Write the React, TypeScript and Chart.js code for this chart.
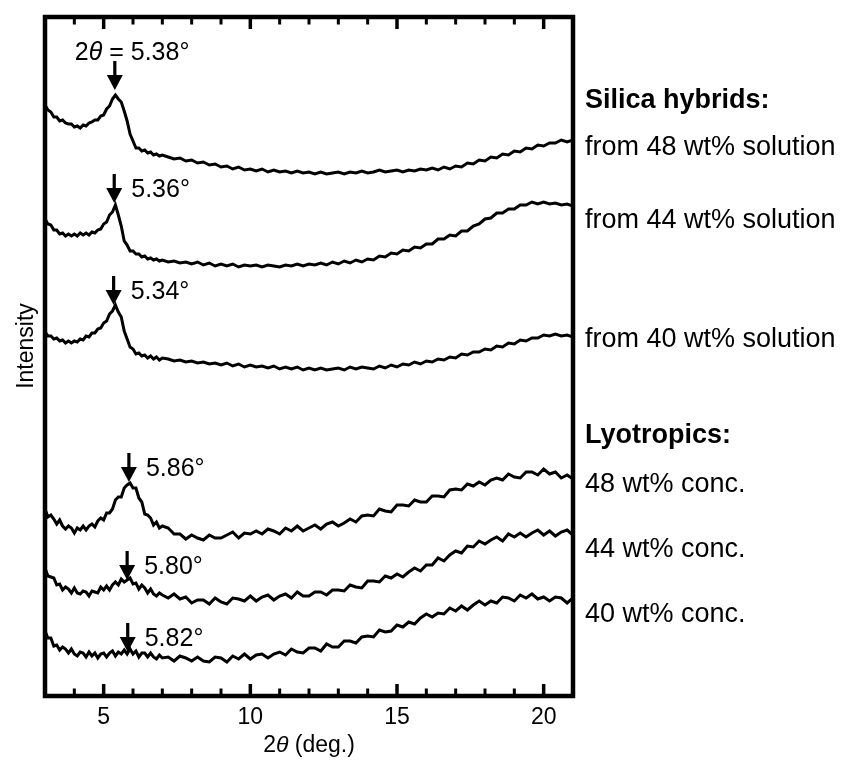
import React, { useEffect, useRef } from 'react';
import { Chart, registerables } from 'chart.js';

Chart.register(...registerables);

const FONT = '"Liberation Sans", Arial, Helvetica, sans-serif';

// 2θ (deg.)
const xValues = [
  3.0, 3.1, 3.2, 3.3, 3.4, 3.5, 3.6, 3.7, 3.8, 3.9, 4.0, 4.1, 4.2, 4.3, 4.4, 4.5, 4.6, 4.7, 4.8, 4.9,
  5.0, 5.1, 5.2, 5.3, 5.4, 5.5, 5.6, 5.7, 5.8, 5.9, 6.0, 6.1, 6.2, 6.3, 6.4, 6.5, 6.6, 6.7, 6.8, 6.9, 7.0,
  7.2, 7.4, 7.6, 7.8, 8.0, 8.2, 8.4, 8.6, 8.8, 9.0, 9.2, 9.4, 9.6, 9.8, 10.0, 10.2, 10.4, 10.6, 10.8, 11.0,
  11.2, 11.4, 11.6, 11.8, 12.0, 12.2, 12.4, 12.6, 12.8, 13.0, 13.2, 13.4, 13.6, 13.8, 14.0, 14.2, 14.4, 14.6,
  14.8, 15.0, 15.2, 15.4, 15.6, 15.8, 16.0, 16.2, 16.4, 16.6, 16.8, 17.0, 17.2, 17.4, 17.6, 17.8, 18.0, 18.2,
  18.4, 18.6, 18.8, 19.0, 19.2, 19.4, 19.6, 19.8, 20.0, 20.2, 20.4, 20.6, 20.8, 21.0,
];

// Intensity (a.u., vertically offset traces)
const hybrid48 = [
  591, 586, 584, 579, 579, 575, 576, 573, 572, 572, 569, 570, 568, 571, 570, 573, 574, 576, 576, 580,
  581, 587, 590, 597, 601, 597, 594, 585, 575, 562, 555, 548, 548, 545, 546, 543, 544, 541, 542, 540, 541,
  539, 537, 538, 535, 536, 533, 534, 531, 532, 529, 530, 527, 529, 526, 527, 525, 527, 524, 526, 524,
  525, 523, 525, 523, 524, 522, 524, 522, 523, 524, 522, 524, 523, 525, 523, 524, 526, 524, 525, 526,
  524, 526, 525, 527, 526, 528, 526, 529, 527, 530, 529, 533, 532, 536, 535, 539, 538, 542, 541, 545,
  544, 548, 547, 551, 550, 553, 553, 556, 554, 556,
];
const hybrid44 = [
  477, 472, 471, 466, 466, 462, 463, 460, 462, 460, 462, 460, 463, 461, 463, 461, 464, 463, 466, 467,
  472, 474, 481, 484, 491, 481, 470, 455, 451, 445, 445, 442, 442, 439, 440, 437, 438, 436, 437, 435, 436,
  434, 435, 433, 434, 432, 434, 431, 433, 430, 432, 430, 432, 429, 431, 430, 431, 429, 431, 430, 429,
  431, 430, 432, 430, 432, 431, 433, 431, 434, 432, 435, 433, 436, 434, 437, 436, 440, 439, 443, 442,
  446, 445, 449, 448, 452, 452, 457, 457, 461, 460, 465, 465, 470, 472, 477, 478, 483, 483, 487, 487,
  491, 491, 494, 492, 494, 492, 493, 491, 492, 490,
];
const hybrid40 = [
  364, 360, 360, 357, 358, 355, 356, 353, 355, 353, 355, 354, 357, 356, 360, 359, 363, 363, 367, 368,
  373, 375, 382, 385, 391, 384, 379, 365, 357, 349, 347, 342, 343, 340, 341, 338, 340, 337, 339, 336, 338,
  337, 335, 336, 334, 335, 333, 334, 332, 333, 331, 333, 330, 332, 329, 331, 329, 330, 328, 330, 327,
  329, 327, 329, 326, 328, 326, 328, 326, 327, 328, 326, 329, 327, 329, 328, 327, 330, 328, 331, 329,
  332, 331, 334, 332, 335, 334, 337, 336, 339, 338, 342, 341, 344, 344, 347, 346, 350, 349, 353, 352,
  356, 355, 358, 358, 361, 360, 362, 360, 361, 359,
];
const lyo48 = [
  187, 179, 181, 177, 172, 176, 170, 167, 170, 168, 163, 168, 166, 170, 166, 170, 172, 169, 175, 178,
  176, 183, 183, 187, 196, 199, 199, 208, 211, 213, 208, 208, 198, 194, 182, 181, 178, 171, 174, 168, 170,
  168, 162, 162, 157, 161, 158, 156, 161, 158, 158, 161, 164, 158, 163, 162, 165, 162, 167, 165, 162,
  168, 165, 170, 165, 168, 171, 167, 172, 174, 170, 173, 177, 174, 180, 181, 180, 187, 185, 184, 191,
  191, 190, 196, 194, 194, 200, 200, 199, 206, 207, 206, 212, 210, 214, 211, 216, 218, 216, 222, 219,
  218, 224, 224, 221, 227, 222, 224, 218, 221, 217,
];
const lyo44 = [
  128, 120, 119, 118, 111, 112, 106, 109, 107, 103, 108, 103, 102, 105, 104, 100, 105, 104, 103, 109,
  106, 110, 106, 111, 114, 111, 117, 114, 116, 118, 112, 113, 107, 111, 108, 103, 107, 102, 100, 103, 101,
  98, 102, 97, 99, 93, 96, 96, 92, 98, 94, 92, 98, 97, 95, 100, 95, 99, 101, 96, 100,
  102, 98, 104, 100, 100, 104, 104, 101, 106, 106, 105, 111, 109, 108, 115, 115, 114, 120, 118, 122,
  119, 124, 128, 125, 131, 131, 138, 135, 141, 145, 143, 150, 149, 155, 152, 156, 159, 155, 162, 159,
  163, 159, 163, 166, 161, 165, 160, 164, 166, 161,
];
const lyo40 = [
  65, 58, 58, 50, 51, 46, 49, 47, 43, 47, 42, 40, 44, 43, 39, 44, 40, 43, 38, 42,
  43, 39, 43, 45, 40, 44, 42, 46, 42, 47, 42, 45, 39, 43, 43, 39, 43, 39, 37, 41, 38,
  39, 35, 40, 38, 35, 39, 35, 34, 39, 38, 34, 40, 37, 42, 37, 41, 42, 38, 42, 44,
  41, 47, 44, 43, 48, 48, 45, 52, 49, 49, 55, 55, 53, 59, 60, 59, 66, 64, 65, 71,
  69, 74, 72, 78, 82, 79, 83, 82, 88, 85, 90, 86, 91, 95, 91, 95, 93, 99, 98, 95,
  101, 98, 102, 97, 99, 95, 99, 98, 93, 98,
];

const seriesList = [hybrid48, hybrid44, hybrid40, lyo48, lyo44, lyo40];
const seriesNames = [
  'from 48 wt% solution',
  'from 44 wt% solution',
  'from 40 wt% solution',
  '48 wt% conc.',
  '44 wt% conc.',
  '40 wt% conc.',
];
const groupTitles = ['Silica hybrids:', 'Lyotropics:'];

// peak markers
const peakX = [5.38, 5.36, 5.34, 5.86, 5.8, 5.82];
const peakLabels = ['5.38°', '5.36°', '5.34°', '5.86°', '5.80°', '5.82°'];
const arrowTipY = [606, 493, 391, 214, 116, 44];

const majorTicks = [5, 10, 15, 20];
const minorTicks = [4, 6, 7, 8, 9, 11, 12, 13, 14, 16, 17, 18, 19];

type Part = { t: string; italic?: boolean; bold?: boolean };

function richWidth(ctx: CanvasRenderingContext2D, parts: Part[], size: number) {
  let w = 0;
  for (const p of parts) {
    ctx.font = `${p.italic ? 'italic ' : ''}${p.bold ? 'bold ' : ''}${size}px ${FONT}`;
    w += ctx.measureText(p.t).width;
  }
  return w;
}

function drawRich(
  ctx: CanvasRenderingContext2D,
  parts: Part[],
  x: number,
  y: number,
  size: number,
  align: 'left' | 'center'
) {
  let cx = x;
  if (align === 'center') cx = x - richWidth(ctx, parts, size) / 2;
  ctx.textAlign = 'left';
  ctx.textBaseline = 'alphabetic';
  for (const p of parts) {
    ctx.font = `${p.italic ? 'italic ' : ''}${p.bold ? 'bold ' : ''}${size}px ${FONT}`;
    ctx.fillText(p.t, cx, y);
    cx += ctx.measureText(p.t).width;
  }
}

const decorPlugin = {
  id: 'xrdDecor',
  afterDatasetsDraw(chart: any) {
    const { ctx, chartArea: a, scales } = chart;
    const xs = scales.x;
    const ys = scales.y;
    ctx.save();
    ctx.fillStyle = '#000';
    ctx.strokeStyle = '#000';

    // frame
    ctx.lineWidth = 4.5;
    ctx.strokeRect(a.left, a.top, a.right - a.left, a.bottom - a.top);

    // ticks (inward, top and bottom)
    ctx.lineCap = 'butt';
    const drawTick = (v: number, len: number, w: number) => {
      const px = xs.getPixelForValue(v);
      ctx.lineWidth = w;
      ctx.beginPath();
      ctx.moveTo(px, a.bottom);
      ctx.lineTo(px, a.bottom - len);
      ctx.moveTo(px, a.top);
      ctx.lineTo(px, a.top + len);
      ctx.stroke();
    };
    majorTicks.forEach((v) => drawTick(v, 12, 3.5));
    minorTicks.forEach((v) => drawTick(v, 7.5, 3));

    // tick labels
    ctx.font = `23px ${FONT}`;
    ctx.textAlign = 'center';
    ctx.textBaseline = 'alphabetic';
    majorTicks.forEach((v) => {
      ctx.fillText(String(v), xs.getPixelForValue(v), a.bottom + 28);
    });

    // x title
    drawRich(
      ctx,
      [{ t: '2' }, { t: 'θ', italic: true }, { t: ' (deg.)' }],
      (a.left + a.right) / 2,
      752,
      23,
      'center'
    );

    // y title
    ctx.save();
    ctx.translate(33, 346);
    ctx.rotate(-Math.PI / 2);
    ctx.font = `23px ${FONT}`;
    ctx.textAlign = 'center';
    ctx.textBaseline = 'alphabetic';
    ctx.fillText('Intensity', 0, 0);
    ctx.restore();

    // peak arrows + labels
    peakX.forEach((pxv, i) => {
      const px = xs.getPixelForValue(pxv);
      const tip = ys.getPixelForValue(arrowTipY[i]);
      ctx.fillRect(px - 1.6, tip - 29, 3.2, 16);
      ctx.beginPath();
      ctx.moveTo(px - 8, tip - 15);
      ctx.lineTo(px + 8, tip - 15);
      ctx.lineTo(px, tip);
      ctx.closePath();
      ctx.fill();
      if (i === 0) {
        drawRich(
          ctx,
          [{ t: '2' }, { t: 'θ', italic: true }, { t: ' = ' + peakLabels[i] }],
          px - 40,
          tip - 30,
          25,
          'left'
        );
      } else {
        drawRich(ctx, [{ t: peakLabels[i] }], px + 17, tip - 6, 25, 'left');
      }
    });

    // right-hand labels
    const lx = 585;
    drawRich(ctx, [{ t: groupTitles[0], bold: true }], lx, 108, 27, 'left');
    drawRich(ctx, [{ t: seriesNames[0] }], lx, 155, 27, 'left');
    drawRich(ctx, [{ t: seriesNames[1] }], lx, 228, 27, 'left');
    drawRich(ctx, [{ t: seriesNames[2] }], lx, 347, 27, 'left');
    drawRich(ctx, [{ t: groupTitles[1], bold: true }], lx, 443, 27, 'left');
    drawRich(ctx, [{ t: seriesNames[3] }], lx, 492, 27, 'left');
    drawRich(ctx, [{ t: seriesNames[4] }], lx, 557, 27, 'left');
    drawRich(ctx, [{ t: seriesNames[5] }], lx, 622, 27, 'left');

    ctx.restore();
  },
};

export default function App() {
  const canvasRef = useRef<HTMLCanvasElement | null>(null);

  useEffect(() => {
    const canvas = canvasRef.current;
    if (!canvas) return;
    const chart = new Chart(canvas, {
      type: 'line',
      data: {
        datasets: seriesList.map((s, k) => ({
          label: seriesNames[k],
          data: xValues.map((x, i) => ({ x, y: s[i] })),
          borderColor: '#000',
          borderWidth: 3,
          pointRadius: 0,
          tension: 0,
          fill: false,
        })),
      },
      options: {
        animation: false,
        responsive: false,
        maintainAspectRatio: false,
        devicePixelRatio: 1,
        layout: { padding: { left: 45, right: 270, top: 17, bottom: 64 } },
        scales: {
          x: { type: 'linear', min: 3, max: 21, display: false },
          y: { type: 'linear', min: 0, max: 679, display: false },
        },
        plugins: {
          legend: { display: false },
          tooltip: { enabled: false },
        },
      },
      plugins: [decorPlugin],
    } as any);
    return () => chart.destroy();
  }, []);

  return (
    <div
      style={{
        position: 'fixed',
        left: 0,
        top: 0,
        width: 843,
        height: 760,
        background: '#fff',
      }}
    >
      <canvas ref={canvasRef} width={843} height={760} style={{ display: 'block' }} />
    </div>
  );
}
